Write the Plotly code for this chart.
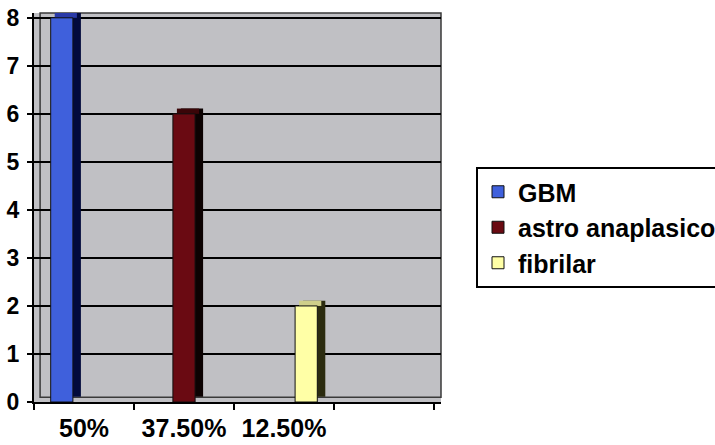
import plotly.graph_objects as go

# Category labels along the x axis (last slot is an empty category)
categories = ["50%", "37.50%", "12.50%", ""]
# One series per tumour type, each with a single count in its own category
series_names = ["GBM", "astro anaplasico", "fibrilar"]
series_category = [0, 1, 2]
series_counts = [8, 6, 2]

front_colors = ["#3f60dc", "#6a0a12", "#ffffa6"]
top_colors = ["#2a3aa8", "#3a0508", "#cfcf8a"]
side_colors = ["#020a3c", "#0c0202", "#2c2c10"]

y_ticks = [0, 1, 2, 3, 4, 5, 6, 7, 8]

FONT = "Liberation Sans, Arial, sans-serif"
bar_w = 0.222          # bar width in category units
depth_x = 0.08         # pseudo-3D depth, x units
depth_y = 0.11         # pseudo-3D depth, y units

fig = go.Figure()

for i, (name, cat, val) in enumerate(zip(series_names, series_category, series_counts)):
    off = -0.333 + i * bar_w
    # side face (dark) shifted back and up
    fig.add_trace(go.Bar(
        x=[cat], y=[val], base=[depth_y], width=bar_w, offset=off + depth_x,
        marker=dict(color=side_colors[i], line=dict(width=0)),
        showlegend=False, hoverinfo="skip",
    ))
    # top face
    fig.add_trace(go.Bar(
        x=[cat], y=[depth_y], base=[val], width=bar_w, offset=off + depth_x / 2,
        marker=dict(color=top_colors[i], line=dict(width=0)),
        showlegend=False, hoverinfo="skip",
    ))
    # front face
    fig.add_trace(go.Bar(
        x=[cat], y=[val], width=bar_w, offset=off, name=name,
        legendgroup=name,
        marker=dict(color=front_colors[i], line=dict(color="#111111", width=1)),
    ))

W, H = 715, 445
left_px, right_px, top_px, bottom_px = 34, 441, 13, 402

fig.update_layout(
    width=W, height=H,
    margin=dict(l=left_px, r=W - right_px, t=top_px, b=H - bottom_px, pad=0,
                autoexpand=False),
    paper_bgcolor="white",
    plot_bgcolor="#c0c0c4",
    barmode="overlay",
    font=dict(family=FONT, color="black", size=22, weight="bold"),
    showlegend=True,
    legend=dict(
        xref="container", yref="container",
        x=476 / W, y=1 - 167 / H, xanchor="left", yanchor="top",
        bordercolor="black", borderwidth=2, bgcolor="white",
        font=dict(family=FONT, size=25, color="black", weight="bold"),
        tracegroupgap=0, traceorder="grouped",
        itemwidth=30,
    ),
    xaxis=dict(
        range=[-0.5, 3.57], automargin=False,
        tickmode="array", tickvals=list(range(len(categories))), ticktext=categories,
        ticks="", showgrid=False, zeroline=False,
        showline=True, linecolor="black", linewidth=2,
        tickfont=dict(family=FONT, size=25, color="black", weight="bold"),
        ticklabelstandoff=3,
        minor=dict(ticks="outside", tick0=-0.5, dtick=1, ticklen=6,
                   tickcolor="black", tickwidth=2, showgrid=False),
    ),
    yaxis=dict(
        range=[0, 8.1], automargin=False,
        tickmode="array", tickvals=y_ticks,
        ticks="outside", ticklen=5, tickcolor="black", tickwidth=2,
        showline=True, linecolor="black", linewidth=2,
        showgrid=True, gridcolor="black", gridwidth=2,
        zeroline=False,
        tickfont=dict(family=FONT, size=23, color="black", weight="bold"),
        ticklabelstandoff=3,
    ),
    shapes=[
        dict(type="rect", xref="x domain", yref="y domain",
             x0=0.015, x1=1.0, y0=0.012, y1=1.0,
             line=dict(color="#3a3a3a", width=1.5), fillcolor="rgba(0,0,0,0)",
             layer="below"),
    ],
)

fig.write_html("out.html")
